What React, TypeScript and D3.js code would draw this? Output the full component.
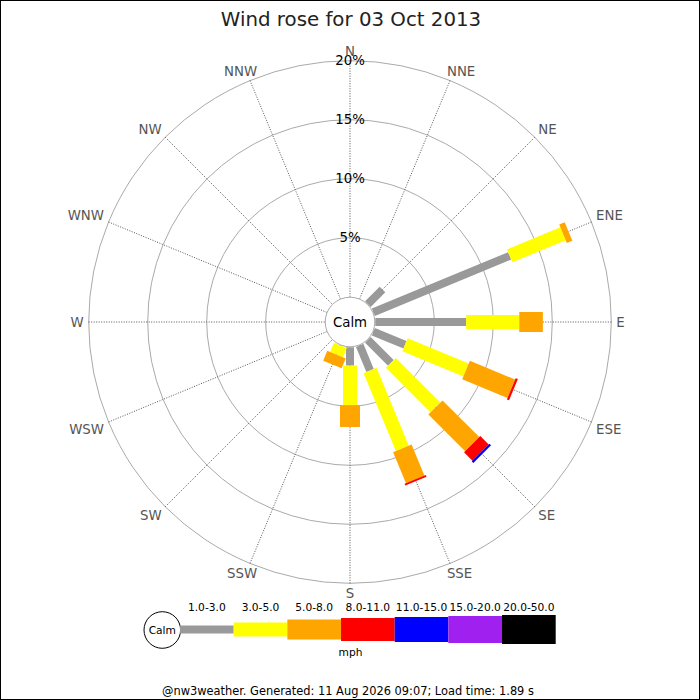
import React from "react";
import * as d3 from "d3";

const directions = ["N","NNE","NE","ENE","E","ESE","SE","SSE","S","SSW","SW","WSW","W","WNW","NW","NNW"];
const speedBins = ["1.0-3.0","3.0-5.0","5.0-8.0","8.0-11.0","11.0-15.0","15.0-20.0","20.0-50.0"];
const binColors = ["#999999","#ffff00","#ffa500","#ff0000","#0000ff","#a020f0","#000000"];
const binWidths = [8, 14, 20, 23, 25, 27, 29];
// percentage per direction (N..NNW) for each speed bin
const bin1 = [0,0,1.75,12.5,7.7,2.9,2.75,2.3,1.55,0,0,0,0,0,0,0];
const bin2 = [0,0,0,4.9,4.5,5.6,5.35,7.15,3.35,0.85,0,0,0,0,0,0];
const bin3 = [0,0,0,0.5,2.0,4.15,4.4,2.85,1.85,0.9,0,0,0,0,0,0];
const bin4 = [0,0,0,0,0,0.2,1.0,0.15,0,0,0,0,0,0,0,0];
const bin5 = [0,0,0,0,0,0,0.2,0,0,0,0,0,0,0,0,0];
const bin6 = [0,0,0,0,0,0,0,0,0,0,0,0,0,0,0,0];
const bin7 = [0,0,0,0,0,0,0,0,0,0,0,0,0,0,0,0];
const binValues = [bin1, bin2, bin3, bin4, bin5, bin6, bin7];
const rings = [5, 10, 15, 20];
const title = "Wind rose for 03 Oct 2013";
const footer = "@nw3weather. Generated: 11 Aug 2026 09:07; Load time: 1.89 s";

const W = 700, H = 700;
const cx = 350, cy = 322;
const calmR = 25.3;
const font = "DejaVu Sans, sans-serif";

export default function App() {
  const r = d3.scaleLinear().domain([0, 20]).range([calmR, 261.3]);
  const angle = d3.scalePoint<string>().domain(directions).range([0, 360 - 22.5]);
  const outer = r(20);

  const rows = directions.map((d, i) => {
    const o: any = { dir: d };
    speedBins.forEach((b, j) => (o[b] = binValues[j][i]));
    return o;
  });
  const stacked = d3.stack<any>().keys(speedBins)(rows);

  const legendX = d3.scaleLinear().domain([0, speedBins.length]).range([180, 555.7]);
  const legendY = 629.5;

  return (
    <svg width={W} height={H} style={{ position: "absolute", left: 0, top: 0, background: "#fff" }} fontFamily={font}>
      <rect x={0} y={0} width={W} height={H} fill="#fff" />
      <text x={351} y={26} textAnchor="middle" fontSize={19.8} fill="#222">{title}</text>

      {/* rings */}
      {rings.map((p) => (
        <circle key={p} cx={cx} cy={cy} r={r(p)} fill="none" stroke="#aaaaaa" strokeWidth={1} />
      ))}
      {/* spokes */}
      {directions.map((d) => {
        const a = ((angle(d) as number) * Math.PI) / 180;
        return (
          <line key={d} x1={cx + calmR * Math.sin(a)} y1={cy - calmR * Math.cos(a)}
            x2={cx + (outer + 1) * Math.sin(a)} y2={cy - (outer + 1) * Math.cos(a)}
            stroke="#555" strokeWidth={1} strokeDasharray="1,1.5" />
        );
      })}
      {/* ring labels */}
      {rings.map((p) => (
        <text key={p} x={cx} y={cy - r(p)} textAnchor="middle" dominantBaseline="central" fontSize={13.33} fill="#000">{p}%</text>
      ))}
      {/* direction labels */}
      {directions.map((d) => {
        const deg = angle(d) as number;
        const a = (deg * Math.PI) / 180;
        const s = Math.sin(a), c = Math.cos(a);
        const rr = outer + 5;
        const anchor = s > 0.01 ? "start" : s < -0.01 ? "end" : "middle";
        const base = c > 0.01 ? "alphabetic" : c < -0.01 ? "hanging" : "central";
        const near = Math.abs(s) > 0.01 && Math.abs(s) < 0.5;
        const dx = near ? (s > 0 ? -5 : 9) : 0;
        return (
          <text key={d} x={cx + rr * s + dx} y={cy - rr * c} textAnchor={anchor} dominantBaseline={base} fontSize={13.33} fill="#555">{d}</text>
        );
      })}

      {/* bars */}
      {stacked.map((layer, j) => (
        <g key={layer.key}>
          {layer.map((seg, i) => {
            const v = seg[1] - seg[0];
            if (v <= 0) return null;
            const deg = angle(directions[i]) as number;
            const r1 = r(seg[0]), r2 = r(seg[1]);
            return (
              <rect key={i} transform={`translate(${cx},${cy}) rotate(${deg - 90})`}
                x={r1} y={-binWidths[j] / 2} width={r2 - r1} height={binWidths[j]} fill={binColors[j]} />
            );
          })}
        </g>
      ))}

      {/* calm circle */}
      <circle cx={cx} cy={cy} r={calmR - 0.5} fill="#fff" stroke="#aaaaaa" strokeWidth={1} />
      <text x={cx} y={cy} textAnchor="middle" dominantBaseline="central" fontSize={13.33} fill="#000">Calm</text>

      {/* legend */}
      <circle cx={162.3} cy={630} r={18.3} fill="#fff" stroke="#000" strokeWidth={1} />
      <text x={162.3} y={630} textAnchor="middle" dominantBaseline="central" fontSize={10.67} fill="#000">Calm</text>
      {speedBins.map((b, j) => (
        <g key={b}>
          <rect x={legendX(j)} y={legendY - binWidths[j] / 2} width={legendX(j + 1) - legendX(j)} height={binWidths[j]} fill={binColors[j]} />
          <text x={(legendX(j) + legendX(j + 1)) / 2} y={610.5} textAnchor="middle" fontSize={10.67} fill="#000">{b}</text>
        </g>
      ))}
      <text x={350.5} y={656} textAnchor="middle" fontSize={10.67} fill="#000">mph</text>

      <text x={348} y={695} textAnchor="middle" fontSize={11.4} fill="#000">{footer}</text>

      <rect x={0.5} y={0.5} width={W - 1} height={H - 1} fill="none" stroke="#000" strokeWidth={1} />
    </svg>
  );
}
